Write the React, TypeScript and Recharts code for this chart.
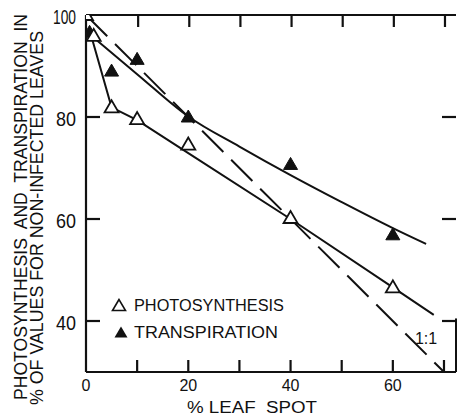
import { ComposedChart, Line, Scatter, XAxis, YAxis, Customized } from 'recharts';

const photoX = [0, 1.5, 5, 10, 20, 40, 60];
const photoY = [100, 95.9, 81.9, 79.6, 74.6, 60.2, 46.6];
const transX = [0.7, 5, 10, 20, 40, 60];
const transY = [96.6, 89, 91.3, 80, 70.7, 56.9];

// hand-fitted curves
const photoFitX = [0.6, 5, 10, 20, 40, 60, 68];
const photoFitY = [97.4, 81.9, 79.4, 72.9, 60, 46.6, 41.2];
const transFitX = [1, 10, 20, 30, 40, 50, 60, 66.5];
const transFitY = [96, 88.4, 80.1, 74.2, 68.6, 63.3, 58.2, 55.1];
const oneToOneX = [0, 70];
const oneToOneY = [100, 30];

const xTicks = [0, 10, 20, 30, 40, 50, 60, 70];
const yTicks = [40, 60, 80, 100];

const X_MAX = 72.35;
const Y_MIN = 30;
const Y_MAX = 100;

const LEFT = 86;
const TOP = 15;
const W = 370;
const H = 357;

const zip = (xs: number[], ys: number[]) => xs.map((x, i) => ({ x, y: ys[i] }));

const INK = '#111';
const FONT = 'Liberation Sans, Arial, sans-serif';
const PRE = { whiteSpace: 'pre' as const };

function tri(cx: number, cy: number, w = 14, h = 12) {
  return `${cx},${cy - h / 2 - 1} ${cx - w / 2},${cy + h / 2 - 1} ${cx + w / 2},${cy + h / 2 - 1}`;
}

const OpenTri = (p: any) => (
  <polygon points={tri(p.cx, p.cy)} fill="#fff" stroke={INK} strokeWidth={1.8} />
);
const FilledTri = (p: any) => <polygon points={tri(p.cx, p.cy)} fill={INK} stroke={INK} strokeWidth={1} />;

// bottom axis: inward tick mark + label every 20
function BottomTick({ x, y, payload }: any) {
  const v = payload.value;
  return (
    <g>
      {v > 0 && <path d={`M${x},${y} v-12`} stroke={INK} strokeWidth={2.2} fill="none" />}
      {v % 20 === 0 && (
        <text x={x} y={y + 13} textAnchor="middle" dominantBaseline="central" fontSize={16} fontFamily={FONT} fill={INK}>
          {v}
        </text>
      )}
    </g>
  );
}

function TopTick({ x, y, payload }: any) {
  if (payload.value <= 0) return null;
  return <path d={`M${x + 1},${y} v12`} stroke={INK} strokeWidth={2.2} fill="none" />;
}

function LeftTick({ x, y, payload }: any) {
  const v = payload.value;
  return (
    <g>
      {v < Y_MAX && <path d={`M${x},${y} h14`} stroke={INK} strokeWidth={2.2} fill="none" />}
      <text
        x={x - 10} y={y + 2} textAnchor="end" dominantBaseline="central"
        fontSize={20} fontFamily={FONT} fill={INK}
        textLength={v === 100 ? 23 : 20} lengthAdjust="spacingAndGlyphs"
      >
        {v}
      </text>
    </g>
  );
}

function RightTick({ x, y, payload }: any) {
  if (payload.value >= Y_MAX) return null;
  return <path d={`M${x},${y} h-14`} stroke={INK} strokeWidth={2.2} fill="none" />;
}

function Labels() {
  const t = { fontFamily: FONT, fill: INK, dominantBaseline: 'central' as const, style: PRE };
  return (
    <g>
      <text {...t} x={21} y={400} fontSize={17.5} textAnchor="start"
        transform="rotate(-90 21 400)" textLength={386} lengthAdjust="spacingAndGlyphs">
        {'PHOTOSYNTHESIS  AND  TRANSPIRATION  IN'}
      </text>
      <text {...t} x={37} y={405} fontSize={17.5} textAnchor="start"
        transform="rotate(-90 37 405)" textLength={374} lengthAdjust="spacingAndGlyphs">
        {'% OF VALUES FOR NON-INFECTED LEAVES'}
      </text>
      <text {...t} x={252} y={407} fontSize={16} textAnchor="middle" textLength={130} lengthAdjust="spacingAndGlyphs">
        {'% LEAF  SPOT'}
      </text>

      {/* legend */}
      <polygon points={tri(119, 306, 13, 11)} fill="#fff" stroke={INK} strokeWidth={1.6} />
      <text {...t} x={134} y={305} fontSize={16} textLength={150} lengthAdjust="spacingAndGlyphs">
        PHOTOSYNTHESIS
      </text>
      <polygon points={tri(121, 333, 13, 11)} fill={INK} />
      <text {...t} x={134} y={332} fontSize={16} textLength={144} lengthAdjust="spacingAndGlyphs">
        TRANSPIRATION
      </text>

      <text {...t} x={426} y={338} fontSize={16} textAnchor="middle">1:1</text>
    </g>
  );
}

const axisLine = { stroke: INK, strokeWidth: 2.2 };

export default function App() {
  return (
    <div style={{ position: 'absolute', left: 0, top: 0, width: 457, height: 416, background: '#fff' }}>
      <ComposedChart width={457} height={416} margin={{ top: TOP - 1, right: 0, bottom: 416 - TOP - H - 1, left: LEFT - 1 }}>
        <XAxis
          xAxisId="b" type="number" dataKey="x" domain={[0, X_MAX]} ticks={xTicks}
          height={1} tickSize={0} tickMargin={0} tick={<BottomTick />}
          axisLine={axisLine} tickLine={false} allowDataOverflow
        />
        <XAxis
          xAxisId="t" orientation="top" type="number" dataKey="x" domain={[0, X_MAX]} ticks={xTicks}
          height={1} tickSize={0} tickMargin={0} tick={<TopTick />}
          axisLine={axisLine} tickLine={false} allowDataOverflow
        />
        <YAxis
          yAxisId="l" type="number" domain={[Y_MIN, Y_MAX]} ticks={yTicks}
          width={1} tickSize={0} tickMargin={0} tick={<LeftTick />}
          axisLine={axisLine} tickLine={false} allowDataOverflow
        />
        <YAxis
          yAxisId="r" orientation="right" type="number" domain={[Y_MIN, Y_MAX]} ticks={yTicks}
          width={1} tickSize={0} tickMargin={0} tick={<RightTick />}
          axisLine={false} tickLine={false} allowDataOverflow
        />

        <Line xAxisId="b" yAxisId="l" data={zip(oneToOneX, oneToOneY)} dataKey="y" type="linear"
          stroke={INK} strokeWidth={2} strokeDasharray="30 11" dot={false} isAnimationActive={false} />
        <Line xAxisId="b" yAxisId="l" data={zip(photoFitX, photoFitY)} dataKey="y" type="linear"
          stroke={INK} strokeWidth={2} dot={false} isAnimationActive={false} />
        <Line xAxisId="b" yAxisId="l" data={zip(transFitX, transFitY)} dataKey="y" type="monotone"
          stroke={INK} strokeWidth={2} dot={false} isAnimationActive={false} />

        <Scatter xAxisId="b" yAxisId="l" data={zip(transX, transY)} dataKey="y"
          shape={<FilledTri />} isAnimationActive={false} />
        <Scatter xAxisId="b" yAxisId="l" data={zip(photoX, photoY)} dataKey="y"
          shape={<OpenTri />} isAnimationActive={false} />

        <Customized component={<Labels />} />
      </ComposedChart>
      {/* short visible stub of the right-hand frame edge */}
      <svg width={457} height={416} style={{ position: 'absolute', left: 0, top: 0, pointerEvents: 'none' }}>
        <rect x={LEFT + W - 1} y={TOP + H * ((Y_MAX - 40.5) / (Y_MAX - Y_MIN))} width={2}
          height={H * ((40.5 - Y_MIN) / (Y_MAX - Y_MIN))} fill={INK} />
      </svg>
    </div>
  );
}
